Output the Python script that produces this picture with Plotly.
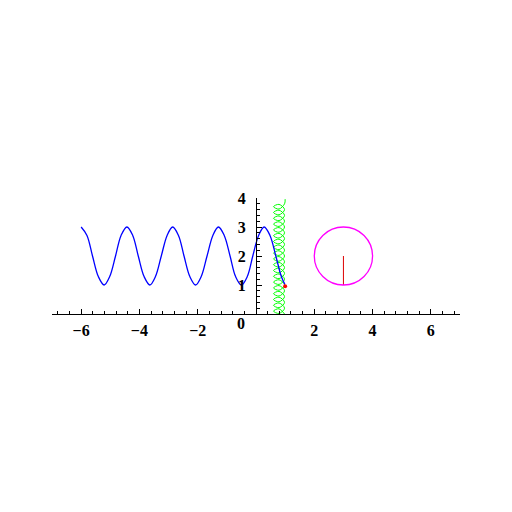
import plotly.graph_objects as go

# blue wave (read at eighth-period points)
wave_x = [-6.00, -5.80, -5.61, -5.41, -5.21, -5.02, -4.82, -4.63, -4.43,
          -4.23, -4.04, -3.84, -3.64, -3.45, -3.25, -3.05, -2.86,
          -2.66, -2.47, -2.27, -2.07, -1.88, -1.68, -1.48, -1.29,
          -1.09, -0.89, -0.70, -0.50, -0.30, -0.11, 0.09, 0.28,
          0.48, 0.68, 0.87, 0.99]
wave_y = [3.00, 2.71, 2.00, 1.29, 1.00, 1.29, 2.00, 2.71, 3.00,
          2.71, 2.00, 1.29, 1.00, 1.29, 2.00, 2.71, 3.00,
          2.71, 2.00, 1.29, 1.00, 1.29, 2.00, 2.71, 3.00,
          2.71, 2.00, 1.29, 1.00, 1.29, 2.00, 2.71, 3.00,
          2.71, 2.00, 1.29, 1.02]

# green looped curve (right, top, left, bottom of each loop)
coil_x = [0.98, 0.79, 0.60, 0.79] * 19 + [0.98, 1.00]
coil_y = [0.00, 0.18, 0.10, 0.02,
          0.20, 0.38, 0.30, 0.22,
          0.40, 0.58, 0.50, 0.42,
          0.60, 0.78, 0.70, 0.62,
          0.80, 0.98, 0.90, 0.82,
          1.00, 1.18, 1.10, 1.02,
          1.20, 1.38, 1.30, 1.22,
          1.40, 1.58, 1.50, 1.42,
          1.60, 1.78, 1.70, 1.62,
          1.80, 1.98, 1.90, 1.82,
          2.00, 2.18, 2.10, 2.02,
          2.20, 2.38, 2.30, 2.22,
          2.40, 2.58, 2.50, 2.42,
          2.60, 2.78, 2.70, 2.62,
          2.80, 2.98, 2.90, 2.82,
          3.00, 3.18, 3.10, 3.02,
          3.20, 3.38, 3.30, 3.22,
          3.40, 3.58, 3.50, 3.42,
          3.60, 3.78, 3.70, 3.62,
          3.80, 3.96]

dot_x = [1.00]
dot_y = [0.96]

circle_center = (3.0, 2.0)
circle_radius = 1.0
spoke_x = [3.0, 3.0]
spoke_y = [1.0, 2.0]

x_ticks = [-6, -4, -2, 2, 4, 6]
y_ticks = [1, 2, 3, 4]

fig = go.Figure()
fig.add_trace(go.Scatter(x=coil_x, y=coil_y, mode="lines",
                         line=dict(color="#00ff00", width=1, shape="spline", smoothing=1.0)))
fig.add_trace(go.Scatter(x=wave_x, y=wave_y, mode="lines",
                         line=dict(color="#0000ff", width=1.3, shape="spline", smoothing=1.0)))
fig.add_trace(go.Scatter(x=spoke_x, y=spoke_y, mode="lines",
                         line=dict(color="#dd0000", width=1)))
fig.add_trace(go.Scatter(x=dot_x, y=dot_y, mode="markers",
                         marker=dict(color="#ff0000", size=4)))

cx, cy = circle_center
fig.add_shape(type="circle", xref="x", yref="y",
              x0=cx - circle_radius, x1=cx + circle_radius,
              y0=cy - circle_radius, y1=cy + circle_radius,
              line=dict(color="#ff00ff", width=1.3))

tickfont = dict(family="Liberation Serif", size=16, color="black", weight="bold")

fig.update_layout(
    width=512, height=512,
    margin=dict(l=44, r=60, t=190, b=206),
    plot_bgcolor="white", paper_bgcolor="white",
    showlegend=False,
    xaxis=dict(range=[-7, 7], showgrid=False, zeroline=False, automargin=False,
               showline=True, linecolor="black", linewidth=1,
               ticks="inside", ticklen=5, tickcolor="black",
               tickvals=x_ticks, tickfont=tickfont, ticklabelstandoff=2,
               minor=dict(dtick=0.4, tick0=0, ticks="inside", ticklen=3, tickcolor="black"),
               fixedrange=True),
    yaxis=dict(range=[0, 4], showgrid=False, zeroline=False, automargin=False,
               anchor="free", position=0.5,
               showline=True, linecolor="black", linewidth=1,
               ticks="inside", ticklen=5, tickcolor="black",
               tickvals=y_ticks, tickfont=tickfont, ticklabelstandoff=7,
               minor=dict(dtick=0.2, tick0=0, ticks="inside", ticklen=3, tickcolor="black"),
               fixedrange=True),
)
fig.add_annotation(x=0, y=0, xref="x", yref="y", text="0", showarrow=False,
                   xanchor="right", yanchor="top", xshift=-9, yshift=1,
                   font=tickfont)

fig.write_html("out.html")
